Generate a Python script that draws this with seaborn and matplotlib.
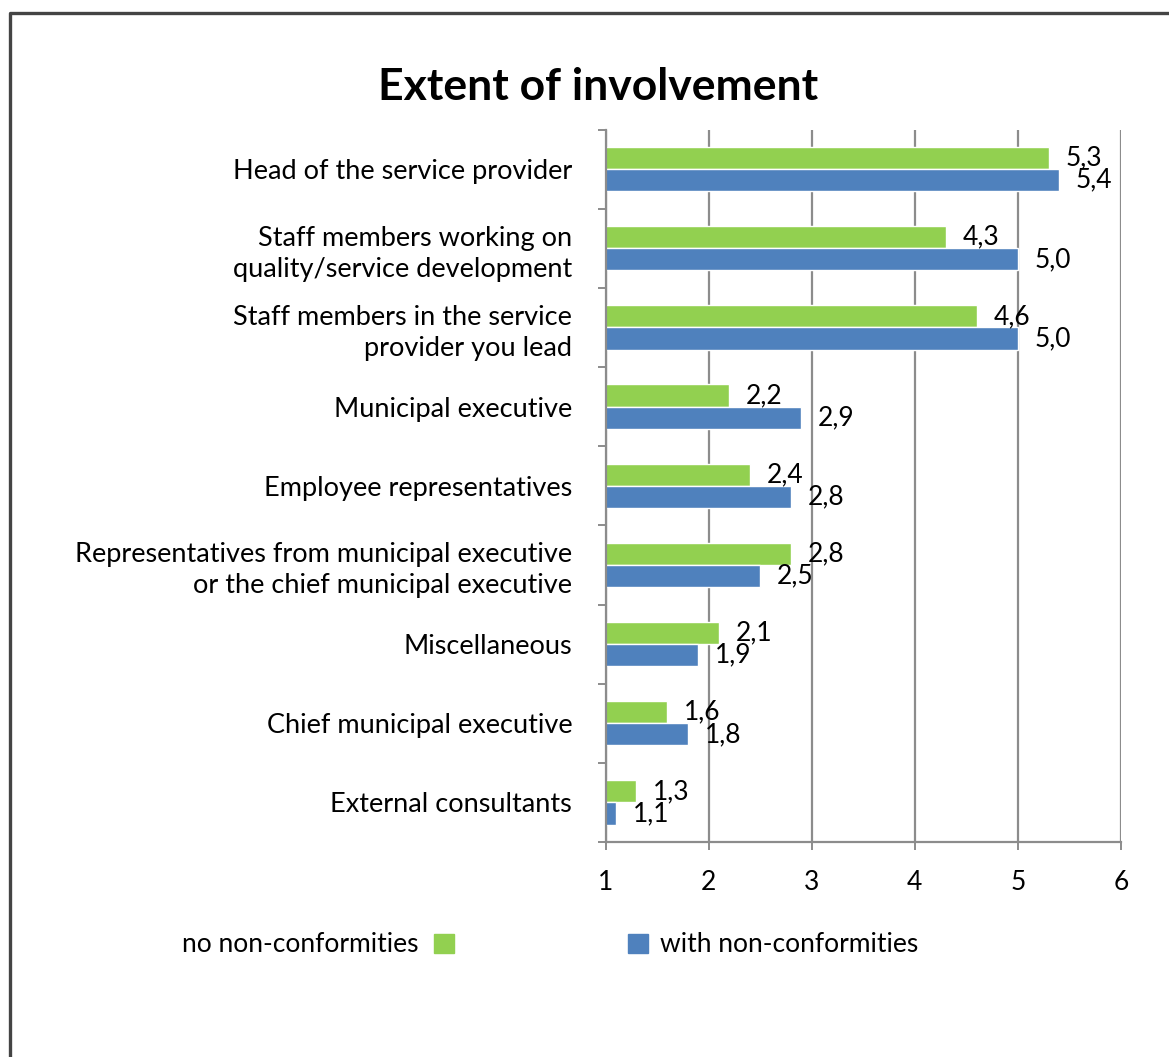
import matplotlib
matplotlib.use("Agg")
import matplotlib.pyplot as plt
from matplotlib.lines import Line2D
from matplotlib.ticker import FixedLocator
import seaborn as sns
import pandas as pd

categories = [
    "Head of the service provider",
    "Staff members working on\nquality/service development",
    "Staff members in the service\nprovider you lead",
    "Municipal executive",
    "Employee representatives",
    "Representatives from municipal executive\nor the chief municipal executive",
    "Miscellaneous",
    "Chief municipal executive",
    "External consultants",
]
no_nonconf = [5.3, 4.3, 4.6, 2.2, 2.4, 2.8, 2.1, 1.6, 1.3]
with_nonconf = [5.4, 5.0, 5.0, 2.9, 2.8, 2.5, 1.9, 1.8, 1.1]
series_names = ["no non-conformities", "with non-conformities"]
x_ticks = [1, 2, 3, 4, 5, 6]

df = pd.DataFrame({
    "category": categories * 2,
    "value": no_nonconf + with_nonconf,
    "group": [series_names[0]] * len(categories) + [series_names[1]] * len(categories),
})

sns.set_theme(style="white")
plt.rcParams["font.family"] = ["Lato", "DejaVu Sans"]
plt.rcParams["text.color"] = "black"
plt.rcParams["xtick.color"] = "black"
plt.rcParams["ytick.color"] = "black"

GREEN = "#92D050"
BLUE = "#4F81BD"
GRID = "#8C8C8C"

fig = plt.figure(figsize=(11.69, 10.57), dpi=100)
ax = fig.add_axes([0.518, 0.2034, 0.441, 0.674])

sns.barplot(data=df, y="category", x="value", hue="group", order=categories,
            hue_order=series_names, palette=[GREEN, BLUE], orient="h",
            width=0.56, gap=0, saturation=1, ax=ax, legend=False)

ax.set_xlim(1, 6)
ax.set_ylim(len(categories) - 0.5, -0.5)
ax.set_xticks(x_ticks)
ax.set_xticklabels([str(t) for t in x_ticks], fontsize=19)
ax.set_xlabel("")
ax.set_ylabel("")

# vertical gridlines
ax.xaxis.grid(True, color=GRID, linewidth=1.6)
ax.set_axisbelow(True)

for side in ["top", "right"]:
    ax.spines[side].set_visible(False)
for side in ["left", "bottom"]:
    ax.spines[side].set_color(GRID)
    ax.spines[side].set_linewidth(1.6)

# category boundaries carry the tick marks on the value axis
ax.yaxis.set_minor_locator(FixedLocator([i - 0.5 for i in range(len(categories) + 1)]))
ax.tick_params(axis="y", which="minor", length=6, width=1.4, color=GRID, left=True)
ax.tick_params(axis="y", which="major", length=0, pad=24, labelsize=19.5)
ax.tick_params(axis="x", which="major", length=6, width=1.4, color=GRID, bottom=True,
               pad=14)
for lbl in ax.get_yticklabels():
    lbl.set_linespacing(1.3)

# value labels with decimal comma
for cont, vals in zip(ax.containers, [no_nonconf, with_nonconf]):
    ax.bar_label(cont, labels=[f"{v:.1f}".replace(".", ",") for v in vals],
                 padding=12, fontsize=19)

# title
fig.text(0.512, 0.918, "Extent of involvement", ha="center", va="center",
         fontsize=32, fontweight="bold")

# legend entries at the bottom
h_green = plt.Rectangle((0, 0), 1, 1, color=GREEN)
h_blue = plt.Rectangle((0, 0), 1, 1, color=BLUE)
leg1 = fig.legend([h_green], [series_names[0]], loc="center left",
                  bbox_to_anchor=(0.135, 0.106), frameon=False, markerfirst=False,
                  fontsize=19, handlelength=0.75, handleheight=0.75, handletextpad=0.6)
leg2 = fig.legend([h_blue], [series_names[1]], loc="center left",
                  bbox_to_anchor=(0.517, 0.106), frameon=False, markerfirst=True,
                  fontsize=19, handlelength=0.75, handleheight=0.75, handletextpad=0.45)

# outer frame (left and top edges)
fx = 10 / 1169
fy = 1 - 13 / 1057
fig.add_artist(Line2D([fx, fx, 1.0], [0.0, fy, fy], transform=fig.transFigure,
                      color="#444444", linewidth=2.4))

fig.savefig("out.png", dpi=100)
